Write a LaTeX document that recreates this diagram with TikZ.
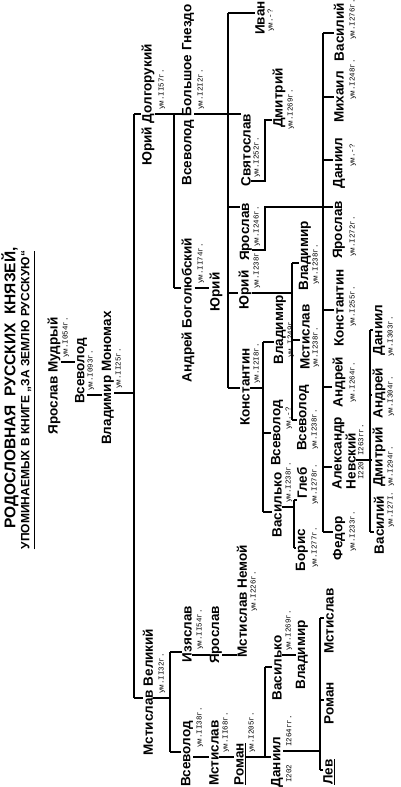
\documentclass[tikz,border=0pt]{standalone}
\usepackage{fontspec}
\newfontfamily\namefont{Liberation Sans}
\newfontfamily\datefont{Liberation Mono}
\usetikzlibrary{calc}
\tikzset{
  prince/.style={rotate=90,inner sep=0pt,font=\namefont\bfseries\fontsize{13.5}{12}\selectfont},
  died/.style={rotate=90,inner sep=0pt,anchor=west,font=\datefont\fontsize{7.5}{8}\selectfont},
  tie/.style={line width=1.1pt},
}
\begin{document}
\begin{tikzpicture}[x=1pt,y=-1pt]
  \useasboundingbox (0,0) rectangle (401,787);
  % title
  \node[rotate=90,inner sep=0pt,font=\namefont\bfseries\fontsize{15.5}{16}\selectfont] (ttlA) at (10,388) {РОДОСЛОВНАЯ\ \ РУССКИХ\ \ КНЯЗЕЙ,};
  \node[rotate=90,inner sep=0pt,font=\namefont\bfseries\fontsize{12}{13}\selectfont] (ttlB) at (26,400) {УПОМИНАЕМЫХ В КНИГЕ „ЗА ЗЕМЛЮ РУССКУЮ“};
  \draw[tie] ($(ttlB.south west)+(3,0)$) -- ($(ttlB.south east)+(3,0)$);
  % princes
  \foreach \n/\x/\y/\t in {
     yaroslavM/54/376/Ярослав Мудрый, vsevolodA/81/371/Всеволод, vladimirM/108/378/Владимир Мономах,
     yuriD/148/105/Юрий Долгорукий, mstislavV/148/692/Мстислав Великий,
     vsevolodBG/188/95/Всеволод Большое Гнездо, andreiB/188/310/Андрей Боголюбский,
     izyaslav/187/634/Изяслав, vsevolodM/187/754/Всеволод,
     yuriA/216/292/Юрий, yaroslavI/216/635/Ярослав, mstislavS/214/753/Мстислав,
     ivan/260/18/Иван, svyatoslav/246/150/Святослав, yaroslavV/246/232/Ярослав,
     yuriV/245/290/Юрий, konstantin/245/387/Константин, mstislavN/242/601/Мстислав Немой,
     romanM/240/764/\underline{Роман},
     dmitriS/279/98/Дмитрий, vladimirK/280/330/Владимир, vsevolodK/277/433/Всеволод,
     vasilkoK/277/505/Василько, vasilkoR/277/668/Василько, daniilR/277/762/Даниил,
     vladimirY/305/256/Владимир, mstislavY/305/337/Мстислав, vsevolodY/303/418/Всеволод,
     gleb/302/483/Глеб, boris/302/550/Борис, vladimirV/302/655/Владимир,
     lev/329/772/\underline{Лев}, romanD/329/703/Роман, mstislavD/329/621/Мстислав,
     vasiliY/339/32/Василий, mikhail/339/97/Михаил, daniilY/339/163/Даниил,
     yaroslavY/339/230/Ярослав, konstantinY/339/308/Константин, andreiY/339/382/Андрей,
     fedor/339/538/Федор,
     vasiliA/379/525/Василий, dmitriA/379/457/Дмитрий, andreiA/379/393/Андрей, daniilA/379/330/Даниил}
  { \node[prince] (\n) at (\x,\y) {\t}; }
  \node[prince,align=left] (aleksandr) at (344,453) {Александр\\Невский};
  % years
  \foreach \x/\y/\t [count=\i] in {
     66/358/ум.I054г., 91/391/ум.I093г., 119/389/ум.II25г.,
     162/110/ум.II57г., 162/694/ум.II32г., 201/110/ум.I2I2г., 201/284/ум.II74г.,
     200/650/ум.II54г., 200/748/ум.II38г., 226/753/ум.II68г., 252/753/ум.I205г.,
     254/612/ум.I226г., 271/32/ум.-?, 257/178/ум.I252г., 257/247/ум.I246г.,
     257/289/ум.I238г., 257/384/ум.I2I8г., 291/130/ум.I269г., 291/358/ум.I249г.,
     289/430/ум.-?, 289/503/ум.I238г., 289/651/ум.I269г., 289/783/I202, 289/747/I264гг.,
     316/285/ум.I238г., 316/368/ум.I238г., 315/450/ум.I238г., 315/505/ум.I278г.,
     315/568/ум.I277г., 353/40/ум.I276г., 353/100/ум.I248г., 353/167/ум.-?,
     353/257/ум.I272г., 353/327/ум.I255г., 353/403/ум.I264г., 361/480/I220,
     361/456/I263гг., 353/552/ум.I233г., 391/528/ум.I27I., 391/487/ум.I294г.,
     391/417/ум.I304г., 391/357/ум.I303г.}
  { \node[died] (yr\i) at (\x,\y) {\t}; }
  % single lines
  \draw[tie] (yaroslavM.south |- 0,362) -- (vsevolodA.north |- 0,362);
  \draw[tie] (vsevolodA.south |- 0,395) -- (vladimirM.north |- 0,395);
  \draw[tie] (andreiB.south |- 0,288) -- (yuriA.north |- 0,288);
  \draw[tie] (izyaslav.south |- 0,655) -- (yaroslavI.north |- 0,655);
  \draw[tie] (yaroslavI.south |- 0,655) -- (mstislavN.north |- 0,655);
  \draw[tie] (vsevolodM.south |- 0,757) -- (mstislavS.north |- 0,757);
  \draw[tie] (mstislavS.south |- 0,757) -- (romanM.north |- 0,757);
  \draw[tie] (svyatoslav.south |- 0,181) -| (265,120) -- (dmitriS.north |- 0,120);
  \draw[tie] (vasilkoR.south |- 0,655) -- (vladimirV.north |- 0,655);
  % sibling bars
  \foreach \p/\bx/\jy/\ya/\yb in {
     vladimirM/134/393/114/698, yuriD/174/114/114/288, mstislavV/170/698/652/752,
     vsevolodBG/228/114/13/388, konstantin/263/388/342/512, yuriV/292/293/263/420,
     vasilkoK/294/507/500/548, romanM/265/757/667/757, daniilR/320/751/618/770,
     aleksandr/370/460/330/532}
  { \coordinate (\p-a) at (\bx,\ya);
    \coordinate (\p-b) at (\bx,\yb);
    \draw[tie] (\p-a) -- (\p-b);
    \draw[tie] (\p.south |- 0,\jy) -- (\p-a |- 0,\jy); }
  \coordinate (yaroslavV-a) at (323,33);
  \coordinate (yaroslavV-b) at (323,532);
  \draw[tie] (yaroslavV-a) -- (yaroslavV-b);
  \draw[tie] (yaroslavV.south |- 0,250) -| (265,207) -- (yaroslavV-a |- 0,207);
  % drops to the children
  \foreach \p/\c/\cy in {
     vladimirM/yuriD/114, vladimirM/mstislavV/698,
     yuriD/vsevolodBG/114, yuriD/andreiB/288,
     mstislavV/izyaslav/652, mstislavV/vsevolodM/752,
     vsevolodBG/ivan/13, vsevolodBG/svyatoslav/114, vsevolodBG/yaroslavV/207,
     vsevolodBG/yuriV/293, vsevolodBG/konstantin/388,
     konstantin/vladimirK/342, konstantin/vsevolodK/433, konstantin/vasilkoK/512,
     yuriV/vladimirY/263, yuriV/mstislavY/340, yuriV/vsevolodY/420,
     vasilkoK/gleb/500, vasilkoK/boris/548,
     romanM/vasilkoR/667, romanM/daniilR/757,
     daniilR/mstislavD/618, daniilR/romanD/700, daniilR/lev/770,
     yaroslavV/vasiliY/33, yaroslavV/mikhail/97, yaroslavV/daniilY/160,
     yaroslavV/yaroslavY/207, yaroslavV/konstantinY/310, yaroslavV/andreiY/387,
     yaroslavV/aleksandr/467, yaroslavV/fedor/532,
     aleksandr/daniilA/330, aleksandr/andreiA/395, aleksandr/dmitriA/460, aleksandr/vasiliA/532}
  { \draw[tie] (\p-a |- 0,\cy) -- (\c.north |- 0,\cy); }
\end{tikzpicture}
\end{document}
